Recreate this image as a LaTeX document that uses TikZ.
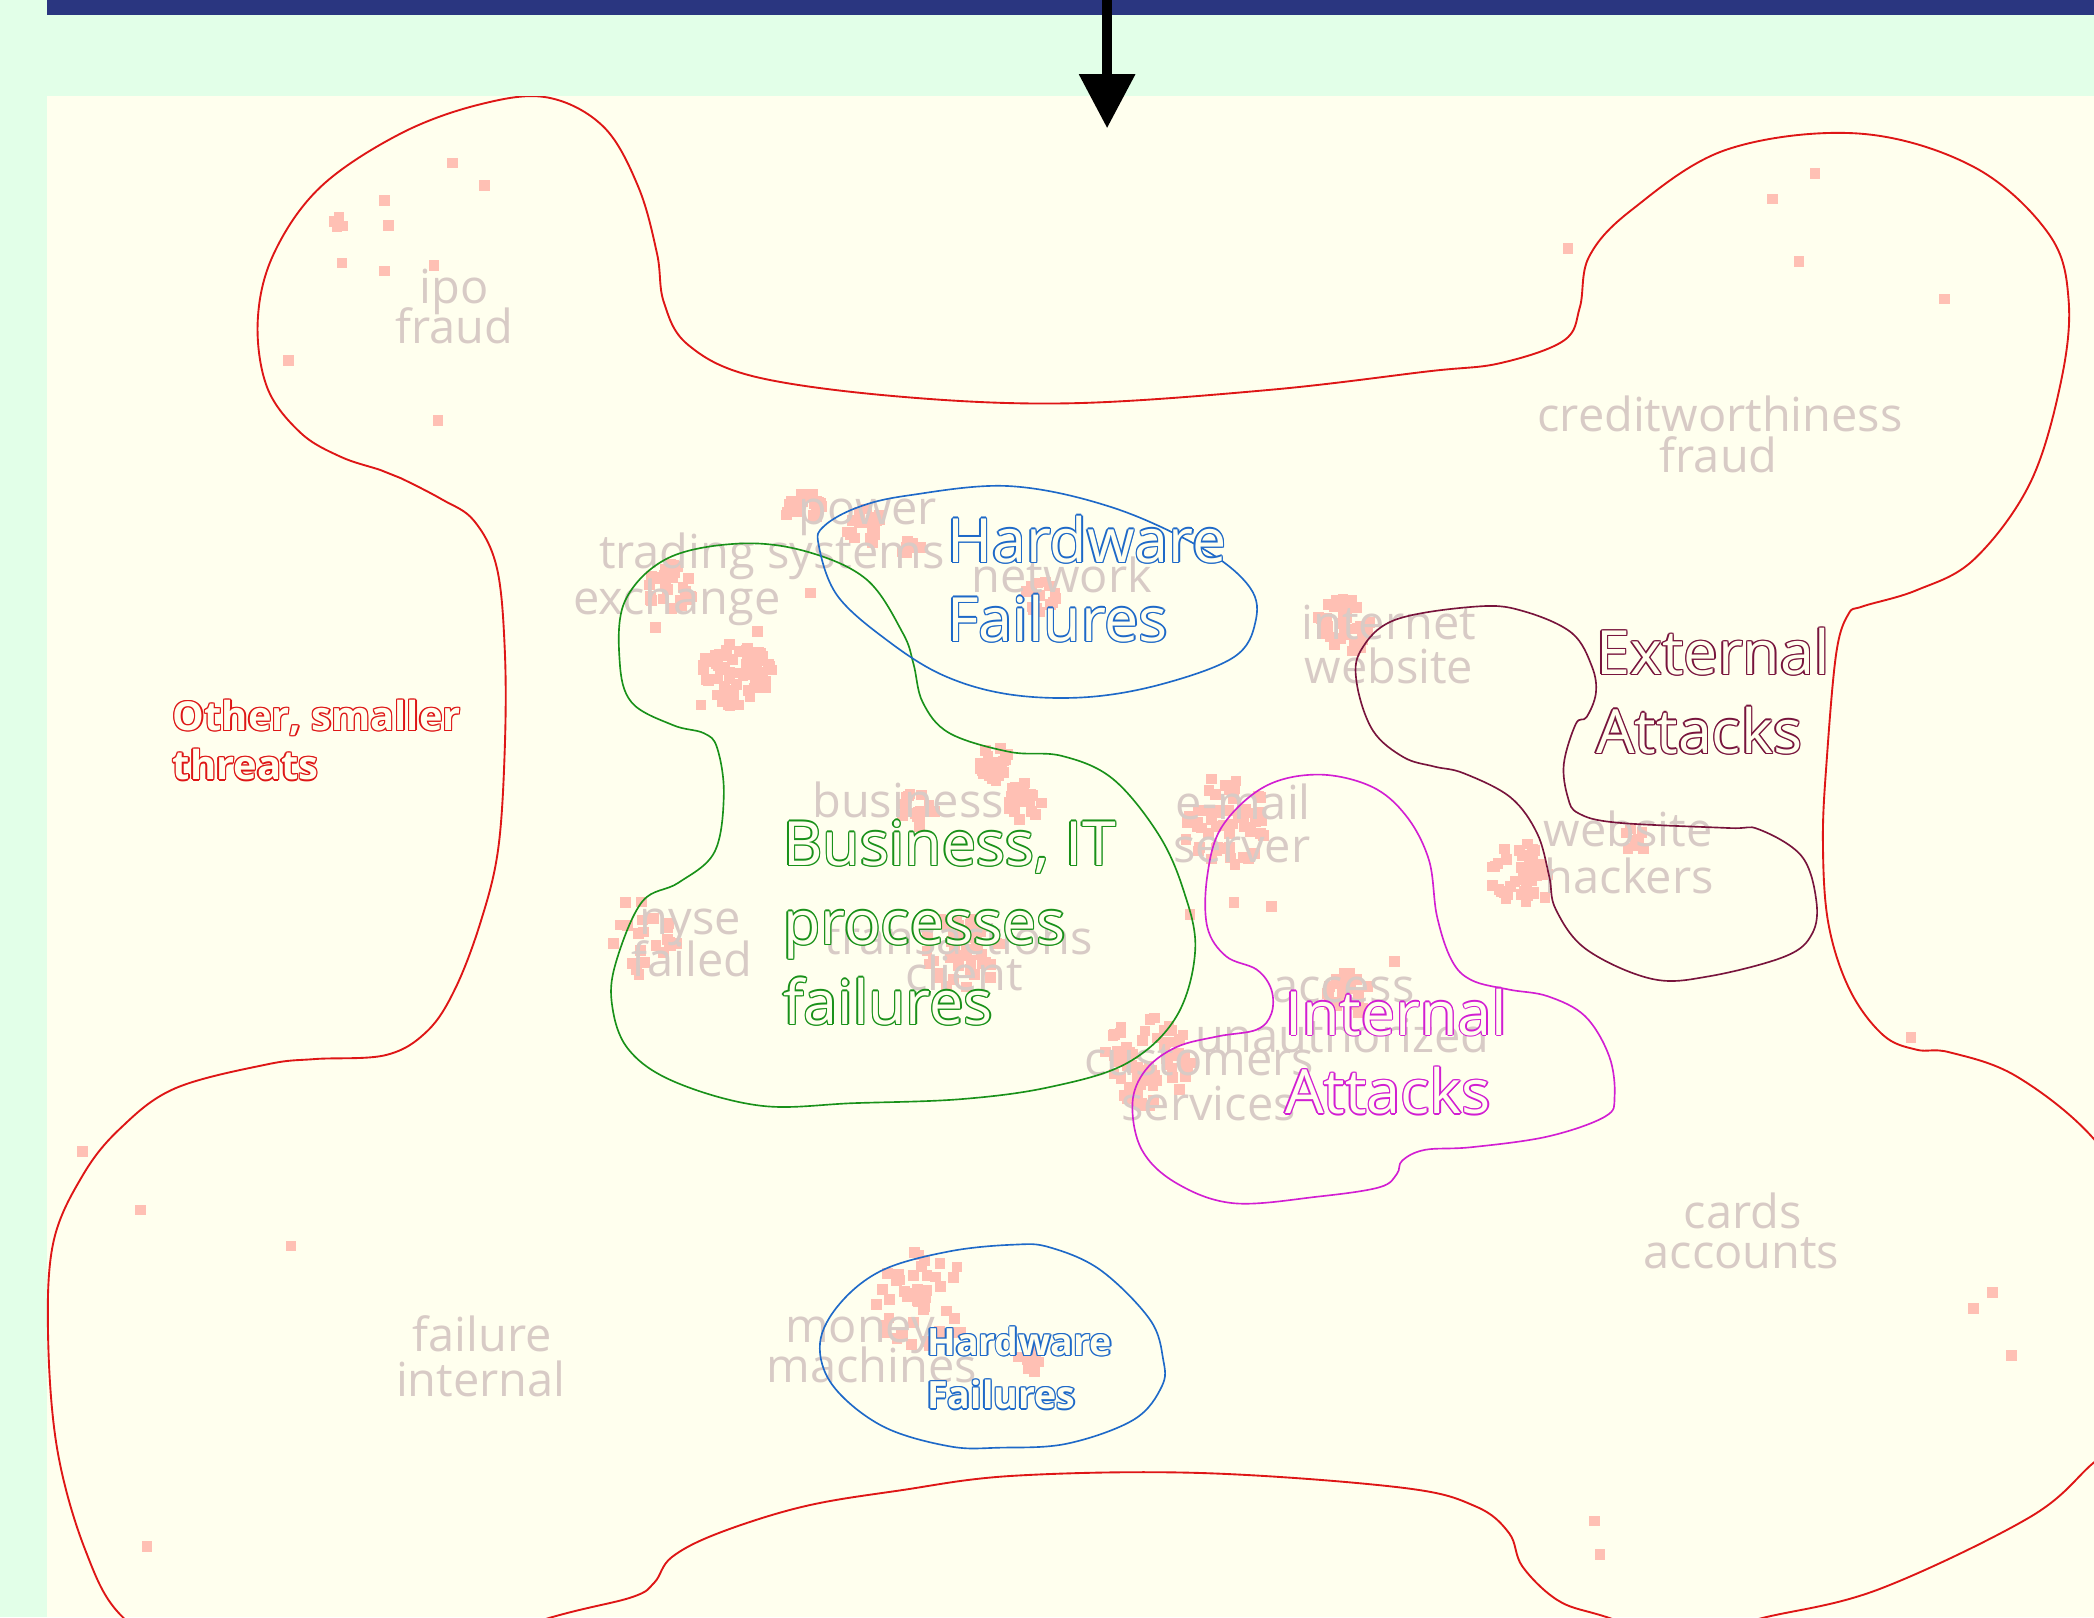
\documentclass[tikz,border=0pt]{standalone}
\usepackage{fontspec}
\setmainfont{Open Sans}
\usetikzlibrary{arrows.meta}
\definecolor{mint}{RGB}{226,255,232}
\definecolor{cream}{RGB}{255,255,238}
\definecolor{navy}{RGB}{42,54,128}
\definecolor{wordgray}{RGB}{216,203,198}
\definecolor{speckpink}{RGB}{255,192,180}
\definecolor{threatred}{RGB}{222,22,22}
\definecolor{hwblue}{RGB}{30,105,200}
\definecolor{bizgreen}{RGB}{25,145,25}
\definecolor{extmaroon}{RGB}{120,20,60}
\definecolor{intmagenta}{RGB}{210,30,210}
\newcommand\wordfont{\fontsize{20}{20}\selectfont}
\newcommand\bigfont{\fontsize{26}{30}\selectfont}
\newcommand\midfont{\fontsize{17}{21}\selectfont\bfseries}
\newcommand\smallfont{\fontsize{16}{20}\selectfont\bfseries}
\newlength\rimw
\setlength\rimw{0.6pt}
\newcommand\hollow[2]{%
  \rlap{\color{#1}\foreach \a in {0,45,...,315}{%
      \pgfmathsetlengthmacro\hx{\rimw*cos(\a)}%
      \pgfmathsetlengthmacro\hy{\rimw*sin(\a)}%
      \rlap{\hspace*{\hx}\raisebox{\hy}{#2}}}}%
  {\color{cream}#2}}
\newcommand\blob[4]{%
  \foreach \k in {1,...,#4}{%
    \pgfmathsetmacro\ang{360*rnd}%
    \pgfmathsetmacro\rad{#3*sqrt(rnd)}%
    \fill[speck] ({#1+\rad*cos(\ang)-4},{#2+\rad*sin(\ang)-4}) rectangle ++(8,8);}}
\tikzset{
  speck/.style={fill=speckpink},
  word/.style={text=wordgray, font=\wordfont, anchor=base, inner sep=0pt},
  tag/.style={anchor=base west, inner sep=0pt},
  rim/.style={line width=0.7pt},
}

\begin{document}
\begin{tikzpicture}[x=0.02cm, y=-0.02cm, >={Triangle[length=23pt,width=23pt]}]
    \useasboundingbox (0,0) rectangle (1568,1211);
    \fill[mint] (0,0) rectangle (1568,1211);
    \fill[navy] (35,0) rectangle (1568,11);
    \fill[cream] (35,72) rectangle (1568,1211);

    \begin{scope}
        \clip (35,72) rectangle (1568,1211);
        \pgfmathsetseed{3}
        \blob{602}{382}{14}{22}
        \blob{648}{395}{14}{22}
        \blob{682}{408}{8}{8}
        \blob{502}{440}{18}{30}
        \blob{553}{503}{27}{70}
        \blob{780}{447}{13}{16}
        \blob{1008}{468}{22}{40}
        \blob{745}{572}{13}{22}
        \blob{767}{600}{14}{22}
        \blob{688}{605}{14}{18}
        \blob{915}{615}{35}{55}
        \blob{480}{700}{30}{22}
        \blob{720}{712}{30}{45}
        \blob{1010}{745}{17}{25}
        \blob{860}{795}{34}{70}
        \blob{1140}{655}{24}{40}
        \blob{1225}{628}{10}{8}
        \blob{690}{975}{38}{45}
        \blob{772}{1022}{12}{8}
        \blob{255}{168}{6}{4}
        \foreach \x/\y in {339/122, 363/139, 288/150, 291/169, 256/197, 288/203, 325/199,
            216/270, 328/315, 1359/130, 1327/149, 1347/196, 1174/186, 1456/224,
            1492/968, 1478/980, 1506/1015, 1194/1139, 1198/1164, 62/862, 105/906,
            218/933, 110/1158, 1431/777, 491/470, 607/444, 567/473, 525/528,
            924/676, 952/679, 891/685, 1044/720}
            \fill[speck] (\x-4,\y-4) rectangle ++(8,8);
    \end{scope}

    \node[word] (ipo) at (340,227) {ipo};
    \node[word] (ipofraud) at (340,257) {fraud};
    \node[word] (credit) at (1288,323) {creditworthiness};
    \node[word] (creditfraud) at (1287,354) {fraud};
    \node[word] (power) at (650,393) {power};
    \node[word] (trading) at (578,426) {trading systems};
    \node[word] (exch) at (507,460) {exchange};
    \node[word] (netw) at (795,444) {network};
    \node[word] (inet) at (1040,479) {internet};
    \node[word] (site) at (1040,512) {website};
    \node[word] (busin) at (680,612) {business};
    \node[word] (email) at (931,614) {e-mail};
    \node[word] (server) at (930,646) {server};
    \node[word] (nyse) at (517,700) {nyse};
    \node[word] (failed) at (518,731) {failed};
    \node[word] (trans) at (718,715) {transactions};
    \node[word] (client) at (722,742) {client};
    \node[word] (access) at (1006,751) {access};
    \node[word] (unauth) at (1005,788) {unauthorized};
    \node[word] (cust) at (898,805) {customers};
    \node[word] (serv) at (905,839) {services};
    \node[word] (hsite) at (1219,634) {website};
    \node[word] (hackers) at (1220,669) {hackers};
    \node[word] (cards) at (1305,920) {cards};
    \node[word] (accounts) at (1304,950) {accounts};
    \node[word] (failure) at (361,1012) {failure};
    \node[word] (internal) at (360,1046) {internal};
    \node[word] (money) at (644,1005) {money};
    \node[word] (machines) at (653,1035) {machines};

    \begin{scope}
        \clip (35,72) rectangle (1568,1211);
        \draw[threatred, line width=0.8pt] plot[smooth cycle, tension=0.6] coordinates {
            (410,73) (452,95) (478,140) (492,190) (497,226) (515,258) (565,282) (674,297)
            (800,302) (950,292) (1070,278) (1123,272) (1171,255) (1183,230) (1190,192)
            (1222,157) (1293,112) (1392,100) (1478,125) (1534,175) (1549,225) (1543,287)
            (1520,362) (1478,419) (1435,442) (1395,454) (1384,460) (1375,489) (1368,567)
            (1365,629) (1369,691) (1385,741) (1410,775) (1435,786) (1460,788) (1510,806)
            (1568,853) (1610,920) (1620,1000) (1600,1070) (1568,1095) (1520,1136)
            (1407,1190) (1322,1211) (1260,1225) (1197,1209) (1166,1198) (1140,1173)
            (1130,1148) (1105,1128) (1050,1114) (900,1103) (760,1105) (674,1116)
            (602,1128) (538,1148) (503,1166) (490,1185) (473,1196) (413,1211)
            (300,1245) (150,1245) (92,1211) (64,1161) (43,1086) (36,1000) (40,930)
            (62,880) (90,845) (131,815) (200,797) (236,793) (289,790) (320,772)
            (341,740) (360,690) (373,636) (378,560) (378,487) (372,425) (355,390)
            (331,374) (300,358) (285,352) (255,342) (225,324) (200,290) (193,240)
            (205,190) (240,140) (300,100) (360,78)};
    \end{scope}
    \draw[bizgreen, rim] plot[smooth cycle, tension=0.6] coordinates {
        (554,407) (604,413) (649,434) (676,474) (684,497) (691,526) (711,549) (756,563)
        (795,566) (833,583) (867,624) (886,666) (895,711) (881,761) (844,796) (786,814)
        (720,823) (640,826) (570,828) (505,810) (470,785) (458,750) (462,718) (481,675)
        (508,661) (535,638) (542,595) (537,560) (527,549) (504,543) (473,526) (464,495)
        (468,450) (500,418)};
    \draw[hwblue, rim] plot[smooth cycle, tension=0.6] coordinates {
        (613,408) (617,394) (642,380) (680,371) (756,364) (833,380) (901,411) (936,440)
        (940,466) (924,492) (871,512) (814,522) (756,520) (707,506) (665,480) (627,446)};
    \draw[extmaroon, rim] plot[smooth cycle, tension=0.6] coordinates {
        (1108,454) (1045,464) (1019,487) (1016,512) (1028,547) (1051,567) (1074,574)
        (1096,579) (1131,597) (1151,624) (1160,656) (1165,681) (1188,711) (1237,733)
        (1280,731) (1337,716) (1357,699) (1360,674) (1349,641) (1317,621) (1294,620)
        (1211,616) (1182,609) (1174,597) (1171,572) (1180,542) (1188,537) (1195,519)
        (1192,499) (1177,474) (1142,458)};
    \draw[intmagenta, rim] plot[smooth cycle, tension=0.6] coordinates {
        (987,580) (947,589) (915,619) (904,656) (904,694) (918,716) (941,726) (952,741)
        (952,759) (941,771) (912,776) (881,784) (858,801) (848,826) (855,861) (881,886)
        (924,901) (987,896) (1033,889) (1046,879) (1050,869) (1067,861) (1102,859)
        (1159,851) (1202,836) (1209,821) (1205,791) (1187,761) (1159,746) (1130,741)
        (1102,734) (1087,719) (1076,686) (1070,644) (1053,611) (1027,589)};
    \draw[hwblue, rim] plot[smooth cycle, tension=0.6] coordinates {
        (759,932) (711,937) (661,951) (629,976) (614,1006) (624,1038) (661,1068) (711,1083)
        (749,1084) (799,1081) (849,1063) (870,1038) (871,1018) (861,988) (824,951) (786,934)};

    \node[tag, font=\midfont] (other1) at (129,547) {\hollow{threatred}{Other, smaller}};
    \node[tag, font=\midfont] (other2) at (129,584) {\hollow{threatred}{threats}};
    \node[tag, font=\bigfont] (hw1) at (709,421) {\hollow{hwblue}{Hardware}};
    \node[tag, font=\bigfont] (hw2) at (709,480) {\hollow{hwblue}{Failures}};
    \node[tag, font=\bigfont] (biz1) at (586,648) {\hollow{bizgreen}{Business, IT}};
    \node[tag, font=\bigfont] (biz2) at (586,707) {\hollow{bizgreen}{processes}};
    \node[tag, font=\bigfont] (biz3) at (586,767) {\hollow{bizgreen}{failures}};
    \node[tag, font=\bigfont] (ext1) at (1195,505) {\hollow{extmaroon}{External}};
    \node[tag, font=\bigfont] (ext2) at (1195,564) {\hollow{extmaroon}{Attacks}};
    \node[tag, font=\bigfont] (int1) at (962,775) {\hollow{intmagenta}{Internal}};
    \node[tag, font=\bigfont] (int2) at (962,834) {\hollow{intmagenta}{Attacks}};
    \node[tag, font=\smallfont] (hws1) at (694,1015) {\hollow{hwblue}{Hardware}};
    \node[tag, font=\smallfont] (hws2) at (694,1055) {\hollow{hwblue}{Failures}};

    \coordinate (drop) at (829,0);
    \coordinate (droptip) at (829,96);
    \draw[->, line width=4pt] (drop) -- (droptip);
\end{tikzpicture}
\end{document}
